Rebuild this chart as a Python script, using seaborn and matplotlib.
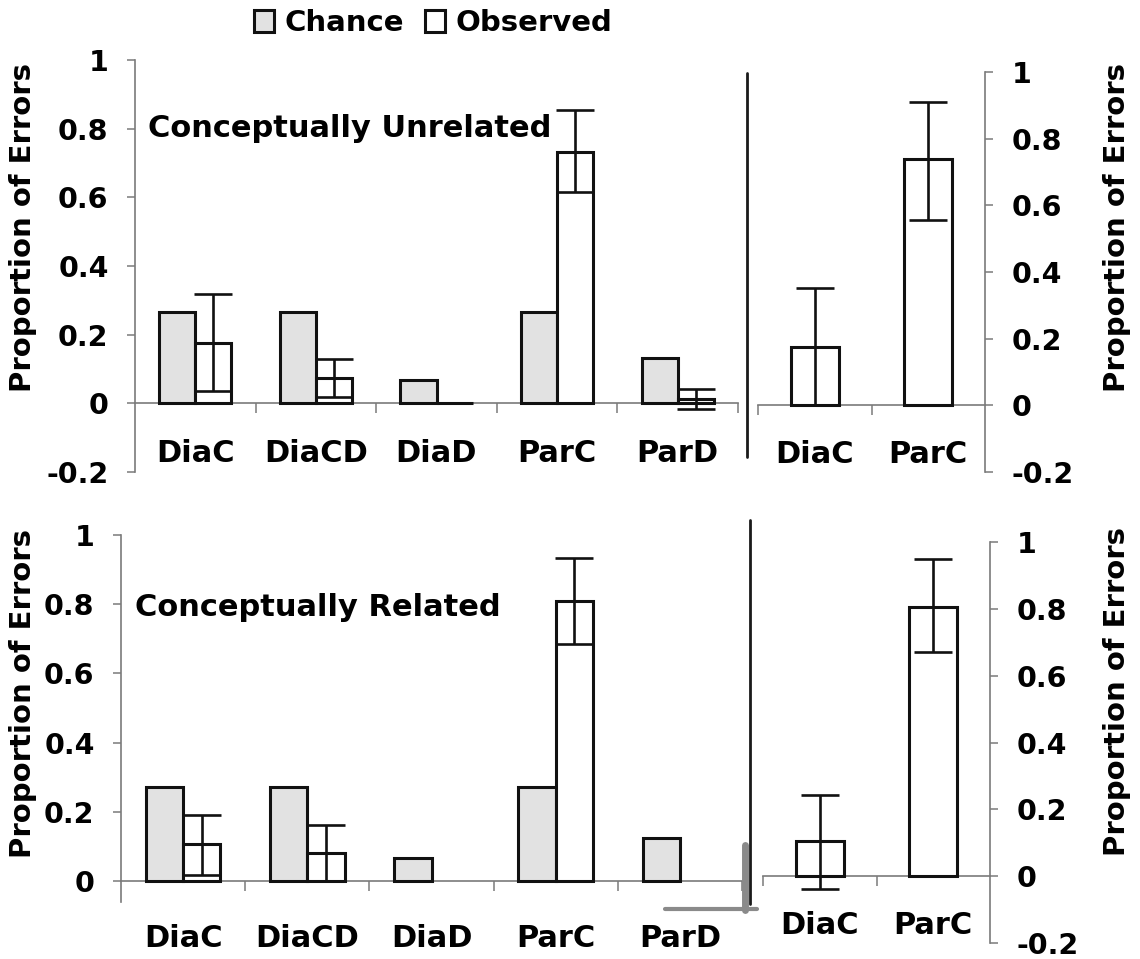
import numpy as np
import pandas as pd
import matplotlib
matplotlib.use("Agg")
import matplotlib.pyplot as plt
import matplotlib.transforms as mtrans
from matplotlib.lines import Line2D
import seaborn as sns

# ---- data -------------------------------------------------------------
categories = ["DiaC", "DiaCD", "DiaD", "ParC", "ParD"]
series_names = ["Chance", "Observed"]

unrel_chance = [0.265, 0.265, 0.067, 0.265, 0.133]
unrel_observed = [0.175, 0.073, 0.0, 0.733, 0.014]
unrel_err_low = [0.036, 0.019, np.nan, 0.615, -0.017]
unrel_err_high = [0.319, 0.128, np.nan, 0.855, 0.043]

rel_chance = [0.270, 0.270, 0.067, 0.270, 0.124]
rel_observed = [0.106, 0.081, np.nan, 0.810, np.nan]
rel_err_low = [0.016, 0.0, np.nan, 0.684, np.nan]
rel_err_high = [0.190, 0.161, np.nan, 0.934, np.nan]

sub_categories = ["DiaC", "ParC"]
unrel_sub_observed = [0.174, 0.739]
unrel_sub_err_low = [0.0, 0.555]
unrel_sub_err_high = [0.352, 0.909]

rel_sub_observed = [0.106, 0.806]
rel_sub_err_low = [-0.038, 0.671]
rel_sub_err_high = [0.242, 0.948]

ytick_values = [-0.2, 0, 0.2, 0.4, 0.6, 0.8, 1.0]
ytick_labels = ["-0.2", "0", "0.2", "0.4", "0.6", "0.8", "1"]

panel_titles = ["Conceptually Unrelated", "Conceptually Related"]
ylabel_text = "Proportion of Errors"

# ---- style ------------------------------------------------------------
sns.set_theme(style="white")
plt.rcParams["font.family"] = ["DejaVu Sans"]
plt.rcParams["font.weight"] = "bold"
for key in ["text.color", "axes.labelcolor", "xtick.labelcolor", "ytick.labelcolor"]:
    plt.rcParams[key] = "black"

AXIS_COLOR = "#7a7a7a"
EDGE = "#111111"
CHANCE_FILL = "#e2e2e2"
TICK_FS = 20.5
XLAB_FS = 22
TITLE_FS = 22
YLAB_FS = 21

W, H = 1140, 959
fig = plt.figure(figsize=(W / 100, H / 100), dpi=100)
fig.patch.set_facecolor("white")


def px_axes(x0, x1, y_top, y_bot):
    """Axes given in pixel coordinates measured from the top-left corner."""
    return fig.add_axes([x0 / W, 1 - y_bot / H, (x1 - x0) / W, (y_bot - y_top) / H])


def draw_errors(ax, xpos, means, lo, hi):
    means = np.asarray(means, float)
    lo = np.asarray(lo, float)
    hi = np.asarray(hi, float)
    ok = ~np.isnan(lo)
    ax.errorbar(np.asarray(xpos)[ok], means[ok],
                yerr=[means[ok] - lo[ok], hi[ok] - means[ok]],
                fmt="none", ecolor=EDGE, elinewidth=1.9,
                capsize=14, capthick=1.9, zorder=5)


def style_axes(ax, labels, side, label_pad, spine_low=-0.2, show_low_label=True):
    n = len(labels)
    ax.set_facecolor("none")
    ax.set_xlim(-0.5, n - 0.5)
    ax.set_ylim(-0.2, 1.0)
    ax.set_xlabel("")
    ax.set_ylabel("")
    for s in ax.spines.values():
        s.set_visible(False)
    # zero line with category separators
    ax.spines["bottom"].set_visible(True)
    ax.spines["bottom"].set_position(("data", 0))
    ax.spines["bottom"].set_color(AXIS_COLOR)
    ax.spines["bottom"].set_linewidth(1.2)
    ax.set_xticks(range(n))
    ax.set_xticklabels(labels, fontsize=XLAB_FS, fontweight="bold")
    ax.tick_params(axis="x", which="major", length=0, pad=label_pad)
    bounds = np.arange(n + 1) - 0.5
    bounds = bounds[1:] if side == "left" else bounds[:-1]
    ax.set_xticks(bounds, minor=True)
    ax.tick_params(axis="x", which="minor", length=7, width=1.1,
                   color=AXIS_COLOR, direction="out", bottom=True)
    # value axis
    spine = ax.spines[side]
    spine.set_visible(True)
    spine.set_color(AXIS_COLOR)
    spine.set_linewidth(1.2)
    spine.set_bounds(spine_low, 1.0)
    start = 0 if show_low_label else 1
    ax.set_yticks(ytick_values[start:])
    ax.set_yticklabels(ytick_labels[start:])
    if side == "right":
        ax.yaxis.tick_right()
    else:
        ax.yaxis.tick_left()
    ax.tick_params(axis="y", length=6, width=1.1, color=AXIS_COLOR,
                   direction="out", pad=13, labelsize=TICK_FS)
    for t in ax.get_yticklabels():
        t.set_fontweight("bold")


def main_panel(ax, chance, observed, lo, hi, title, title_y, label_pad, **kw):
    df = pd.DataFrame({
        "Category": categories * 2,
        "Series": [series_names[0]] * len(categories) + [series_names[1]] * len(categories),
        "Value": list(chance) + list(observed),
    })
    sns.barplot(data=df, x="Category", y="Value", hue="Series", order=categories,
                hue_order=series_names,
                palette={"Chance": CHANCE_FILL, "Observed": "white"},
                saturation=1, width=0.6, errorbar=None, edgecolor=EDGE,
                linewidth=2.2, ax=ax, zorder=3)
    handles, labels = ax.get_legend_handles_labels()
    if ax.get_legend() is not None:
        ax.get_legend().remove()
    draw_errors(ax, np.arange(len(categories)) + 0.15, observed, lo, hi)
    style_axes(ax, categories, "left", label_pad, **kw)
    tr = mtrans.blended_transform_factory(ax.transAxes, ax.transData)
    ax.text(0.022, title_y, title, transform=tr, fontsize=TITLE_FS,
            fontweight="bold", ha="left", va="center")
    return handles, labels


def side_panel(ax, observed, lo, hi, label_pad):
    df = pd.DataFrame({"Category": sub_categories, "Value": observed})
    sns.barplot(data=df, x="Category", y="Value", order=sub_categories,
                color="white", saturation=1, width=0.42, errorbar=None,
                edgecolor=EDGE, linewidth=2.2, ax=ax, zorder=3)
    draw_errors(ax, np.arange(len(sub_categories)), observed, lo, hi)
    style_axes(ax, sub_categories, "right", label_pad)


ax_tl = px_axes(135, 738, 60, 472)
ax_tr = px_axes(758, 985, 72, 472)
ax_bl = px_axes(121, 742, 535, 950)
ax_br = px_axes(763, 990, 542, 943)

handles, labels = main_panel(ax_tl, unrel_chance, unrel_observed, unrel_err_low,
                             unrel_err_high, panel_titles[0], 0.8, 26)
main_panel(ax_bl, rel_chance, rel_observed, rel_err_low, rel_err_high,
           panel_titles[1], 0.79, 31, spine_low=-0.06, show_low_label=False)
side_panel(ax_tr, unrel_sub_observed, unrel_sub_err_low, unrel_sub_err_high, 25)
side_panel(ax_br, rel_sub_observed, rel_sub_err_low, rel_sub_err_high, 25)

# axis titles
for x, y in [(23, 227), (23, 694), (1117, 228), (1117, 692)]:
    fig.text(x / W, 1 - y / H, ylabel_text, rotation=90, ha="center", va="center",
             fontsize=YLAB_FS, fontweight="bold")

# legend
fig.legend(handles, labels, loc="center", bbox_to_anchor=(433 / W, 1 - 23 / H),
           ncol=2, frameon=False, prop={"weight": "bold", "size": 21},
           handlelength=0.7, handleheight=0.75, handletextpad=0.35,
           columnspacing=0.7, borderaxespad=0)

# panel separators
def fig_line(xs, ys, **kw):
    fig.add_artist(Line2D([x / W for x in xs], [1 - y / H for y in ys],
                          transform=fig.transFigure, **kw))

fig_line([747, 747], [73, 457], color="#1a1a1a", lw=2)
fig_line([750, 750], [520, 904], color="#1a1a1a", lw=2)
fig_line([745, 745], [845, 910], color="#8a8a8a", lw=5)
fig_line([665, 757], [909, 909], color="#8a8a8a", lw=3)

fig.savefig("out.png", dpi=100, facecolor="white")
